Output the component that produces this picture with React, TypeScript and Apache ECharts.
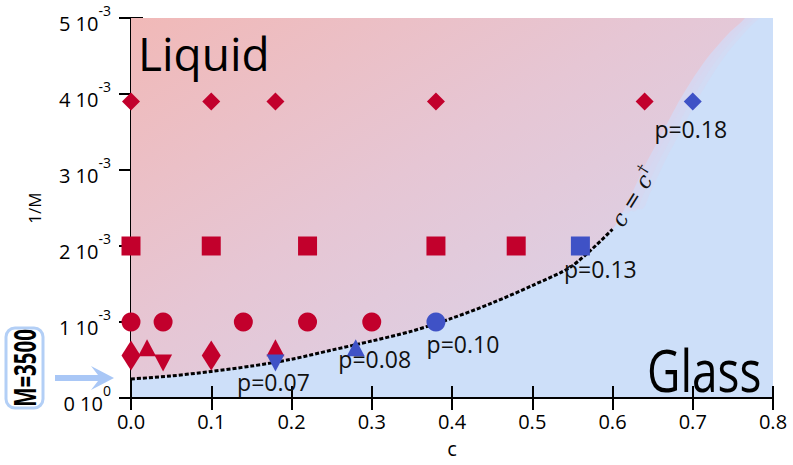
import React, { useEffect, useRef } from "react";
import * as echarts from "echarts";

// ---- data ----
const xTicks = [0, 0.1, 0.2, 0.3, 0.4, 0.5, 0.6, 0.7, 0.8];
const yTickExp = ["0", "-3"];

// liquid (red) states: [c, 1/M]
const liquidDiamond = [[0, 0.0039], [0.1, 0.0039], [0.18, 0.0039], [0.38, 0.0039], [0.64, 0.0039]];
const liquidSquare = [[0, 0.002], [0.1, 0.002], [0.22, 0.002], [0.38, 0.002], [0.48, 0.002]];
const liquidCircle = [[0, 0.001], [0.04, 0.001], [0.14, 0.001], [0.22, 0.001], [0.3, 0.001]];
const liquidThinDiamond = [[0, 0.00056], [0.1, 0.00056]];
const liquidTriUp = [[0.02, 0.00066], [0.18, 0.00066]];
const liquidTriDown = [[0.04, 0.00046]];

// glass (blue) states at the transition
const glassC = [0.18, 0.28, 0.38, 0.56, 0.7];
const glassInvM = [0.00046, 0.00066, 0.001, 0.002, 0.0039];
const glassP = ["p=0.07", "p=0.08", "p=0.10", "p=0.13", "p=0.18"];

// dashed c = c† line
const curveC = [0, 0.05, 0.1, 0.15, 0.2, 0.25, 0.3, 0.35, 0.4, 0.45, 0.5, 0.55, 0.6];
const curveInvM = [0.00025, 0.00029, 0.00035, 0.00042, 0.00051, 0.00063, 0.00075, 0.00088, 0.00105, 0.00125, 0.00148, 0.00174, 0.00222];

// liquid-region boundary beyond the line (fuzzy edge up to the top)
const edgeC = [0.62, 0.64, 0.66, 0.68, 0.7, 0.72, 0.745, 0.765];
const edgeInvM = [0.0026, 0.00305, 0.00345, 0.00385, 0.0042, 0.0045, 0.0048, 0.005];

// ---- styles ----
const RED = "#c2002c";
const BLUE = "#3f52c6";
const FONT = '"Open Sans", sans-serif';
const glassSymbol = ["triangle", "triangle", "circle", "rect", "diamond"];
const glassRotate = [180, 0, 0, 0, 0];
const glassSize: any[] = [[18, 17], [18, 17], 19, 19, 18];
const glassLabelOffset = [[-2, 19], [19, 11], [27, 22], [20, 23], [-2, 27]];
const fuzzShift = [21, 14, 7];

export default function App() {
  const ref = useRef<HTMLDivElement>(null);
  useEffect(() => {
    const chart = echarts.init(ref.current!, null, { renderer: "svg" });
    const regionC = [-0.05, ...curveC, ...edgeC, 0.8, -0.05];
    const regionM = [0.00022, ...curveInvM, ...edgeInvM, 0.0056, 0.0056];
    const softC = [0.61, ...edgeC, 0.8, 0.45, 0.45];
    const softM = [0.0024, ...edgeInvM, 0.0056, 0.0056, 0.0028];

    const glassData = glassC.map((c, i) => ({
      value: [c, glassInvM[i]],
      symbol: glassSymbol[i],
      symbolRotate: glassRotate[i],
      symbolSize: glassSize[i],
      label: {
        show: true,
        formatter: glassP[i],
        position: "inside",
        offset: glassLabelOffset[i],
        fontSize: 23,
        color: "#111",
        fontFamily: FONT,
      },
    }));

    const scatter = (data: any, symbol: string, size: any, rotate = 0) => ({
      type: "scatter",
      data,
      symbol,
      symbolSize: size,
      symbolRotate: rotate,
      itemStyle: { color: RED, opacity: 1 },
      z: 4,
      silent: true,
    });

    const yAxisBase = {
      type: "value",
      min: 0,
      max: 0.005,
      interval: 0.001,
      axisLine: { show: true, lineStyle: { color: "#000", width: 2 } },
      axisTick: { show: true, inside: true, length: 12, lineStyle: { color: "#000", width: 2 } },
      splitLine: { show: false },
    };
    const xAxisBase = {
      type: "value",
      min: 0,
      max: 0.8,
      interval: 0.1,
      axisLine: { show: true, lineStyle: { color: "#000", width: 2 } },
      axisTick: { show: true, inside: true, length: 12, lineStyle: { color: "#000", width: 2 } },
      splitLine: { show: false },
    };

    chart.setOption({
      animation: false,
      grid: {
        left: 131,
        right: 20,
        top: 18,
        bottom: 67,
        show: true,
        backgroundColor: "#cddff9",
        borderWidth: 0,
      },
      xAxis: [
        {
          ...xAxisBase,
          position: "bottom",
          name: "c",
          nameLocation: "middle",
          nameGap: 40,
          nameTextStyle: { fontSize: 20, color: "#000", fontFamily: FONT },
          axisLabel: {
            fontSize: 20,
            color: "#000",
            fontFamily: FONT,
            margin: 13,
            formatter: (v: number) => (xTicks.includes(Math.round(v * 10) / 10) ? v.toFixed(1) : ""),
          },
        },
        { ...xAxisBase, position: "top", axisLabel: { show: false } },
      ],
      yAxis: [
        {
          ...yAxisBase,
          position: "left",
          name: "1/M",
          nameLocation: "middle",
          nameGap: 88,
          nameRotate: 90,
          nameTextStyle: { fontSize: 17, color: "#000", fontFamily: FONT },
          axisLabel: {
            margin: 20,
            formatter: (v: number) => {
              const k = Math.round(v * 1000);
              return k === 0 ? `{a|0 10}{s|${yTickExp[0]}}` : `{a|${k} 10}{s|${yTickExp[1]}}`;
            },
            rich: {
              a: { fontSize: 20, color: "#000", fontFamily: FONT, lineHeight: 30, verticalAlign: "bottom" },
              s: { fontSize: 14, color: "#000", fontFamily: FONT, lineHeight: 30, verticalAlign: "top" },
            },
          },
        },
        { ...yAxisBase, position: "right", axisLabel: { show: false } },
      ],
      series: [
        {
          type: "custom",
          z: 1,
          silent: true,
          clip: true,
          data: [[0, 0]],
          renderItem: (params: any, api: any) => {
            const soft = softC.map((c, i) => api.coord([c, softM[i]]));
            const pts = regionC.map((c, i) => api.coord([c, regionM[i]]));
            const bands = fuzzShift.map((dx) => ({
              type: "polygon",
              shape: { points: soft.map((p: number[]) => [p[0] + dx, p[1] - dx * 0.3]), smooth: 0.25 },
              style: { fill: "rgba(218,212,238,0.4)" },
            }));
            return {
              type: "group",
              children: [
                ...bands,
                {
                  type: "polygon",
                  shape: { points: pts, smooth: 0.25 },
                  style: {
                    fill: new echarts.graphic.LinearGradient(0, 0, 1, 1, [
                      { offset: 0, color: "#f5b4ad" },
                      { offset: 0.5, color: "#e6c6d4" },
                      { offset: 1, color: "#d6d6f0" },
                    ]),
                  },
                },
              ],
            };
          },
        },
        {
          type: "line",
          data: curveC.map((c, i) => [c, curveInvM[i]]),
          smooth: 0.3,
          symbol: "none",
          lineStyle: { color: "#000", width: 3, type: [4, 2] },
          z: 3,
          silent: true,
        },
        scatter(liquidDiamond, "diamond", 18),
        scatter(liquidSquare, "rect", 19),
        scatter(liquidCircle, "circle", 19),
        scatter(liquidThinDiamond, "diamond", [19, 30]),
        scatter(liquidTriUp, "triangle", [18, 17]),
        scatter(liquidTriDown, "triangle", [18, 17], 180),
        {
          type: "scatter",
          data: glassData,
          itemStyle: { color: BLUE, opacity: 1 },
          z: 5,
          silent: true,
        },
      ],
      graphic: [
        {
          type: "text",
          x: 138,
          y: 53,
          style: { text: "Liquid", fontSize: 46, fontFamily: FONT, fill: "#000", align: "left", verticalAlign: "middle" },
          z: 10,
        },
        {
          type: "text",
          x: 647,
          y: 369,
          scaleY: 1.28,
          style: { text: "Glass", fontSize: 46, fontFamily: FONT, fill: "#000", align: "left", verticalAlign: "middle" },
          z: 10,
        },
        {
          type: "text",
          x: 632,
          y: 196,
          rotation: (58 * Math.PI) / 180,
          style: {
            text: "{i|c = c}{d|†}",
            align: "center",
            verticalAlign: "middle",
            rich: {
              i: { fontSize: 22, fontFamily: '"DejaVu Serif", serif', fontStyle: "italic", fill: "#111", lineHeight: 26, verticalAlign: "bottom" },
              d: { fontSize: 15, fontFamily: '"DejaVu Serif", serif', fill: "#111", lineHeight: 26, verticalAlign: "top" },
            },
          },
          z: 10,
        },
        {
          type: "rect",
          shape: { x: 6, y: 328, width: 37, height: 80, r: 9 },
          style: { fill: "none", stroke: "#b3cff6", lineWidth: 3 },
        },
        {
          type: "text",
          x: 24,
          y: 368,
          rotation: Math.PI / 2,
          scaleX: 0.66,
          style: { text: "M=3500", fontSize: 31, fontWeight: "bold", fontFamily: FONT, fill: "#000", align: "center", verticalAlign: "middle" },
        },
        {
          type: "polygon",
          shape: { points: [[55, 375], [98, 375], [91, 366], [114, 378], [91, 390], [98, 381], [55, 381]] },
          style: { fill: "#a9c7f6" },
        },
      ],
    });
    return () => chart.dispose();
  }, []);
  return <div ref={ref} style={{ width: 793, height: 465, position: "absolute", left: 0, top: 0 }} />;
}
